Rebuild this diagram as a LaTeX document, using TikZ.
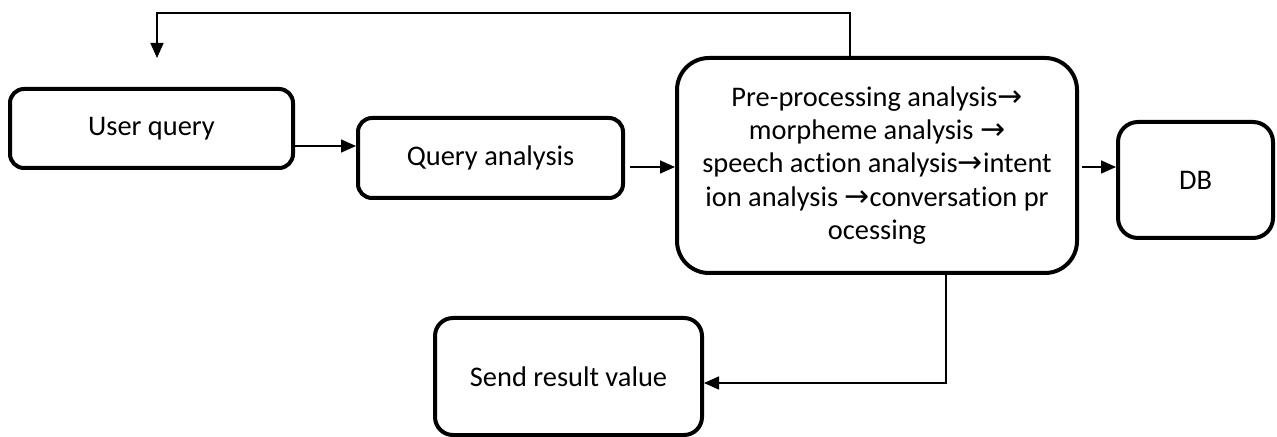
\documentclass[tikz,border=0pt]{standalone}
\usepackage{fontspec}
\setmainfont[RawFeature={-liga;-clig;-calt;-dlig}]{Carlito}
\newfontfamily\arrowfont{DejaVu Sans}
\usetikzlibrary{arrows.meta,calc}
\newcommand{\ra}{{\arrowfont\fontsize{15}{16.5}\selectfont →}}
% keep "t" and "i" apart (no ti ligature)
\newcommand{\tsep}{t\kern0pt i}
\begin{document}
\begin{tikzpicture}[x=0.5pt,y=-0.5pt,
  box/.style={draw=black,line width=2pt,rounded corners=7pt,fill=white,
    align=center,inner sep=0pt,font=\fontsize{14.2}{16.6}\selectfont},
  arr/.style={line width=0.8pt,-{Triangle[length=7.5pt,width=6.5pt]}}]
\useasboundingbox (0,0) rectangle (1277,437);

\node[box,minimum width=141.5pt,minimum height=39.5pt] (user) at (151.5,128.5) {User query};
\node[box,minimum width=132.5pt,minimum height=40pt] (query) at (490.5,158) {Query analysis};
\node[box,rounded corners=16pt,minimum width=200pt,minimum height=107.5pt] (proc) at (877,165.5)
  {Pre-processing analysis\ra\\
   morpheme analysis \ra\\
   speech ac\tsep on analysis\ra intent\\
   ion analysis \ra conversa\tsep on pr\\
   ocessing};
\node[box,rounded corners=10pt,minimum width=77.5pt,minimum height=58pt] (db) at (1195.5,180) {DB};
\node[box,rounded corners=9pt,minimum width=133.5pt,minimum height=58.5pt] (send) at (568.5,376.5) {Send result value};

% user query to query analysis
\coordinate (uout) at (293,146);
\draw[arr] (uout) -- (uout -| query.west);
% query analysis to processing chain
\coordinate (qout) at (630,167);
\draw[arr] (qout) -- (qout -| proc.west);
% processing chain to DB
\coordinate (pout) at (1082,167);
\draw[arr] (pout) -- (pout -| db.west);
% feedback loop back to the user
\coordinate (fb) at (157,58);
\draw[arr] (proc.north -| 850,0) -- (850,13) -- (157,13) -- (fb);
% result returned
\draw[arr] (proc.south -| 946,0) |- (send.east |- 0,383);
\end{tikzpicture}
\end{document}
